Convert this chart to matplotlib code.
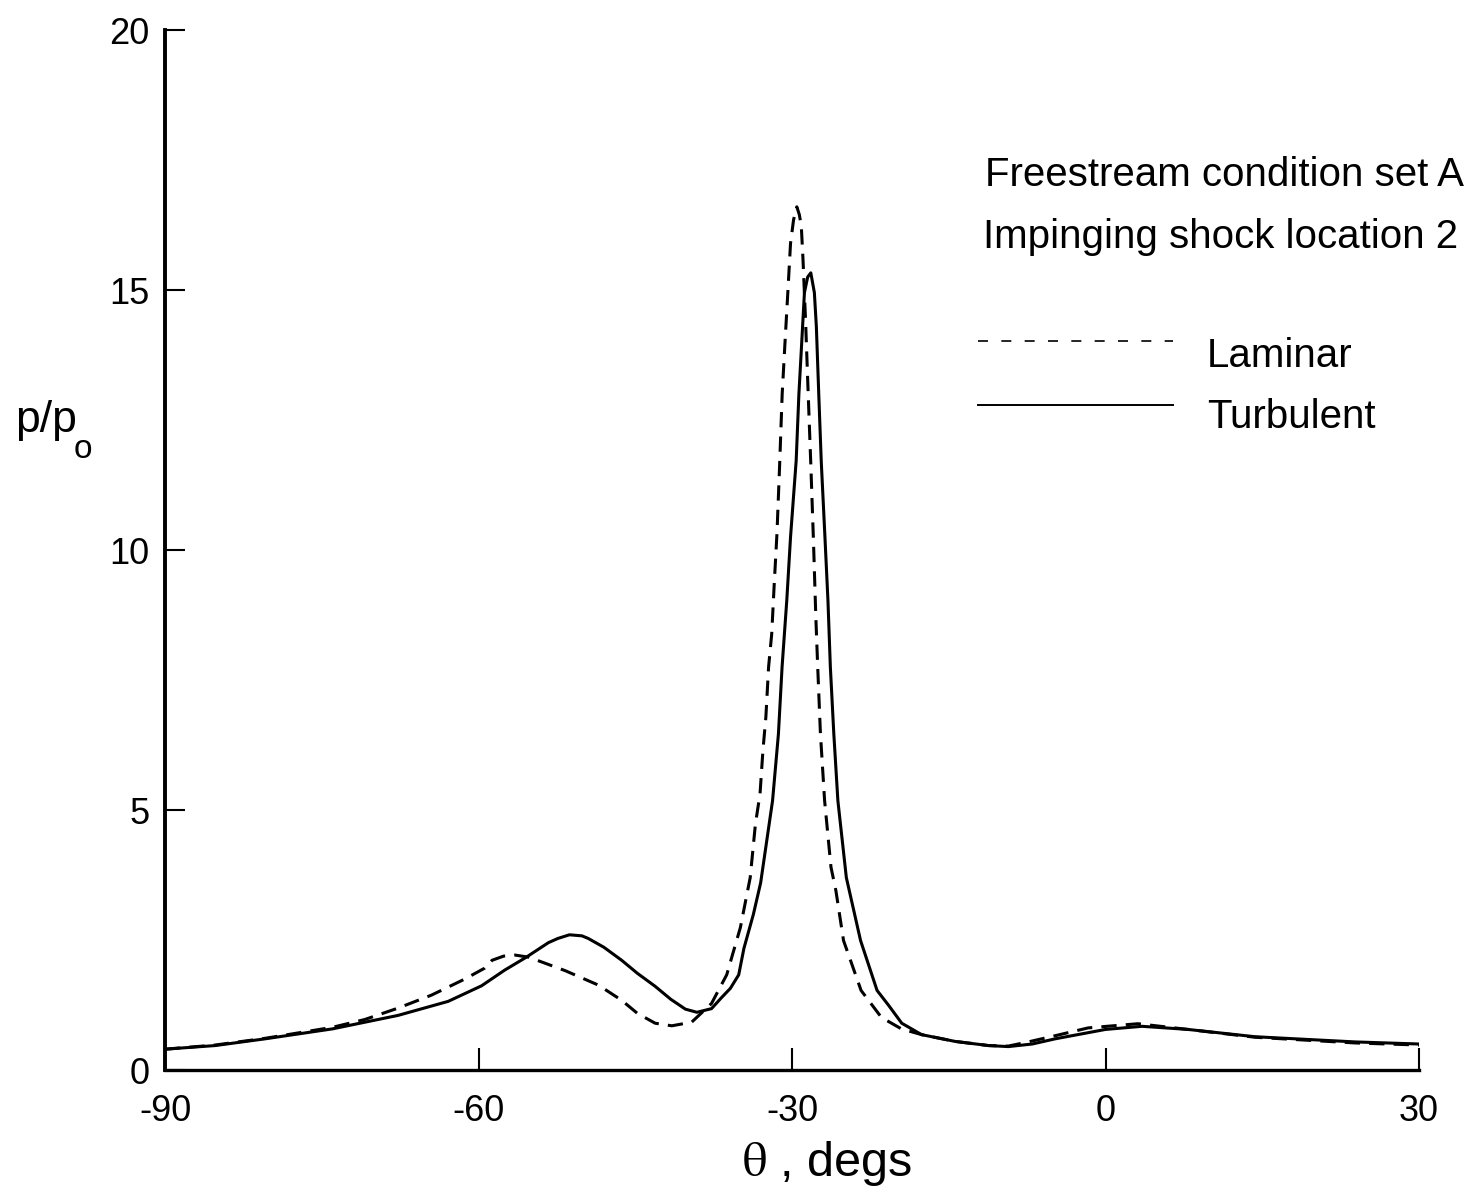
"""
plot.py — Distribution de pression p/p0 en fonction de theta (laminaire vs turbulent).
"""

import matplotlib
matplotlib.use("Agg")
import matplotlib.pyplot as plt
from matplotlib.lines import Line2D

plt.rcParams["font.family"] = ["Liberation Sans", "DejaVu Sans"]
plt.rcParams["mathtext.fontset"] = "stix"

# ── Données ──────────────────────────────────────────────────────────────────
theta_turb = [-90, -85.2, -80.4, -74.0, -67.7, -62.9, -59.7, -57.5, -55.5, -53.3,
              -52.4, -51.3, -50.1, -49.5, -48.0, -46.3, -44.8, -43.1, -41.6, -40.2,
              -39.1, -37.7, -36.8, -35.9, -35.1, -34.6, -33.7, -33.0, -31.86, -31.3,
              -30.95, -30.5, -30.14, -29.6, -29.34, -29.07, -28.81, -28.5, -28.2, -27.86,
              -27.67, -27.44, -27.2, -26.86, -26.56, -26.33, -26.0, -25.61, -24.8, -23.44,
              -21.86, -20.78, -19.5, -17.6, -14.4, -11.2, -9.3, -7.0, -4.8, 0.0,
              3.5, 7.9, 14.3, 23.9, 30]
p_turb = [0.40, 0.47, 0.60, 0.79, 1.05, 1.32, 1.62, 1.92, 2.16, 2.45,
          2.53, 2.60, 2.58, 2.53, 2.36, 2.11, 1.86, 1.61, 1.36, 1.17,
          1.11, 1.18, 1.38, 1.57, 1.83, 2.34, 2.99, 3.60, 5.18, 6.46,
          7.75, 9.03, 10.25, 11.72, 13.0, 13.99, 14.95, 15.25, 15.33, 14.95,
          14.3, 13.0, 11.7, 10.3, 9.03, 7.75, 6.47, 5.18, 3.70, 2.49,
          1.53, 1.25, 0.90, 0.68, 0.55, 0.47, 0.45, 0.50, 0.60, 0.78,
          0.84, 0.78, 0.64, 0.54, 0.50]

theta_lam = [-90, -85.2, -80.4, -74.0, -70.9, -67.7, -64.5, -61.3, -59.4, -58.7,
             -57.6, -56.5, -55.2, -51.7, -48.5, -46.3, -44.8, -43.1, -41.5, -39.6,
             -37.7, -36.25, -34.94, -34.0, -33.5, -33.06, -32.78, -32.5, -32.24, -31.94,
             -31.7, -31.44, -31.19, -30.94, -30.67, -30.4, -30.14, -29.85, -29.54, -29.3,
             -29.11, -28.95, -28.7, -28.45, -28.21, -27.95, -27.72, -27.54, -27.28, -26.88,
             -26.27, -25.8, -25.07, -23.39, -21.44, -19.52, -17.6, -14.4, -11.2, -9.3,
             -7.4, -4.8, -1.65, 3.1, 7.9, 14.3, 23.9, 30]
p_lam = [0.40, 0.48, 0.61, 0.82, 0.97, 1.19, 1.44, 1.75, 1.96, 2.11,
         2.19, 2.21, 2.17, 1.91, 1.63, 1.34, 1.09, 0.90, 0.85, 0.92,
         1.28, 1.83, 2.74, 3.70, 4.73, 5.31, 6.15, 6.79, 7.75, 8.39,
         9.35, 10.31, 11.6, 13.0, 13.99, 14.95, 15.9, 16.35, 16.6, 16.45,
         16.23, 15.6, 14.4, 13.0, 11.7, 10.2, 8.71, 7.75, 6.47, 5.18,
         3.90, 3.45, 2.49, 1.53, 1.01, 0.79, 0.68, 0.55, 0.47, 0.46,
         0.54, 0.66, 0.81, 0.89, 0.78, 0.63, 0.52, 0.48]

x_ticks = [-90, -60, -30, 0, 30]
y_ticks = [0, 5, 10, 15, 20]

notes = ["Freestream condition set A", "Impinging shock location 2"]
series_names = ["Laminar", "Turbulent"]

# ── Styles ───────────────────────────────────────────────────────────────────
LW_CURVE = 2.2
DASH_CURVE = (0, (5, 3))
DASH_LEGEND = (0, (6, 8))
TICK_FS = 26
NOTE_FS = 29
LABEL_FS = 35


def main() -> None:
    W, H = 1471, 1197
    fig = plt.figure(figsize=(W / 100, H / 100), dpi=100)
    ax = fig.add_axes([165 / W, 1 - 1070 / H, 1254 / W, 1040 / H])

    ax.plot(theta_lam, p_lam, color="black", lw=LW_CURVE, ls=DASH_CURVE)
    ax.plot(theta_turb, p_turb, color="black", lw=LW_CURVE, ls="-")

    ax.set_xlim(-90, 30)
    ax.set_ylim(0, 20)
    ax.set_xticks(x_ticks)
    ax.set_yticks(y_ticks)
    ax.set_xticklabels([str(v) for v in x_ticks])
    ax.set_yticklabels([str(v) for v in y_ticks])

    for side in ("top", "right"):
        ax.spines[side].set_visible(False)
    ax.spines["left"].set_linewidth(2.8)
    ax.spines["bottom"].set_linewidth(2.4)

    ax.tick_params(axis="x", direction="in", length=15.5, width=1.5,
                   labelsize=TICK_FS, pad=17)
    ax.tick_params(axis="y", direction="in", length=14.5, width=1.5,
                   labelsize=TICK_FS, pad=11)

    # Axe x : theta en serif, le reste en sans
    ax.set_xlabel(r"$\mathrm{\theta}$ , degs", fontsize=LABEL_FS)
    ax.xaxis.set_label_coords((827 - 165) / 1254, -(1163 - 1070) / 1040)
    ax.xaxis.label.set_verticalalignment("center")

    # Axe y : p/p_o (indice posé à part)
    fig.text(15 / W, 1 - 432 / H, "p/p", fontsize=32, ha="left", va="baseline")
    fig.text(74 / W, 1 - 458 / H, "o", fontsize=24, ha="left", va="baseline")

    # ── Annotations et légende manuelle ──────────────────────────────────────
    fig.text(985 / W, 1 - 186 / H, notes[0], fontsize=NOTE_FS, ha="left", va="baseline")
    fig.text(983 / W, 1 - 248 / H, notes[1], fontsize=NOTE_FS, ha="left", va="baseline")

    fig.add_artist(Line2D([978 / W, 1173 / W], [1 - 341 / H, 1 - 341 / H],
                          color="black", lw=1.2, ls=DASH_LEGEND))
    fig.add_artist(Line2D([978 / W, 1173 / W], [1 - 405 / H, 1 - 405 / H],
                          color="black", lw=1.4, ls="-"))
    fig.text(1207 / W, 1 - 367 / H, series_names[0], fontsize=NOTE_FS,
             ha="left", va="baseline")
    fig.text(1207 / W, 1 - 428 / H, series_names[1], fontsize=NOTE_FS,
             ha="left", va="baseline")

    fig.savefig("out.png", dpi=100)
    plt.close(fig)


if __name__ == "__main__":
    main()
